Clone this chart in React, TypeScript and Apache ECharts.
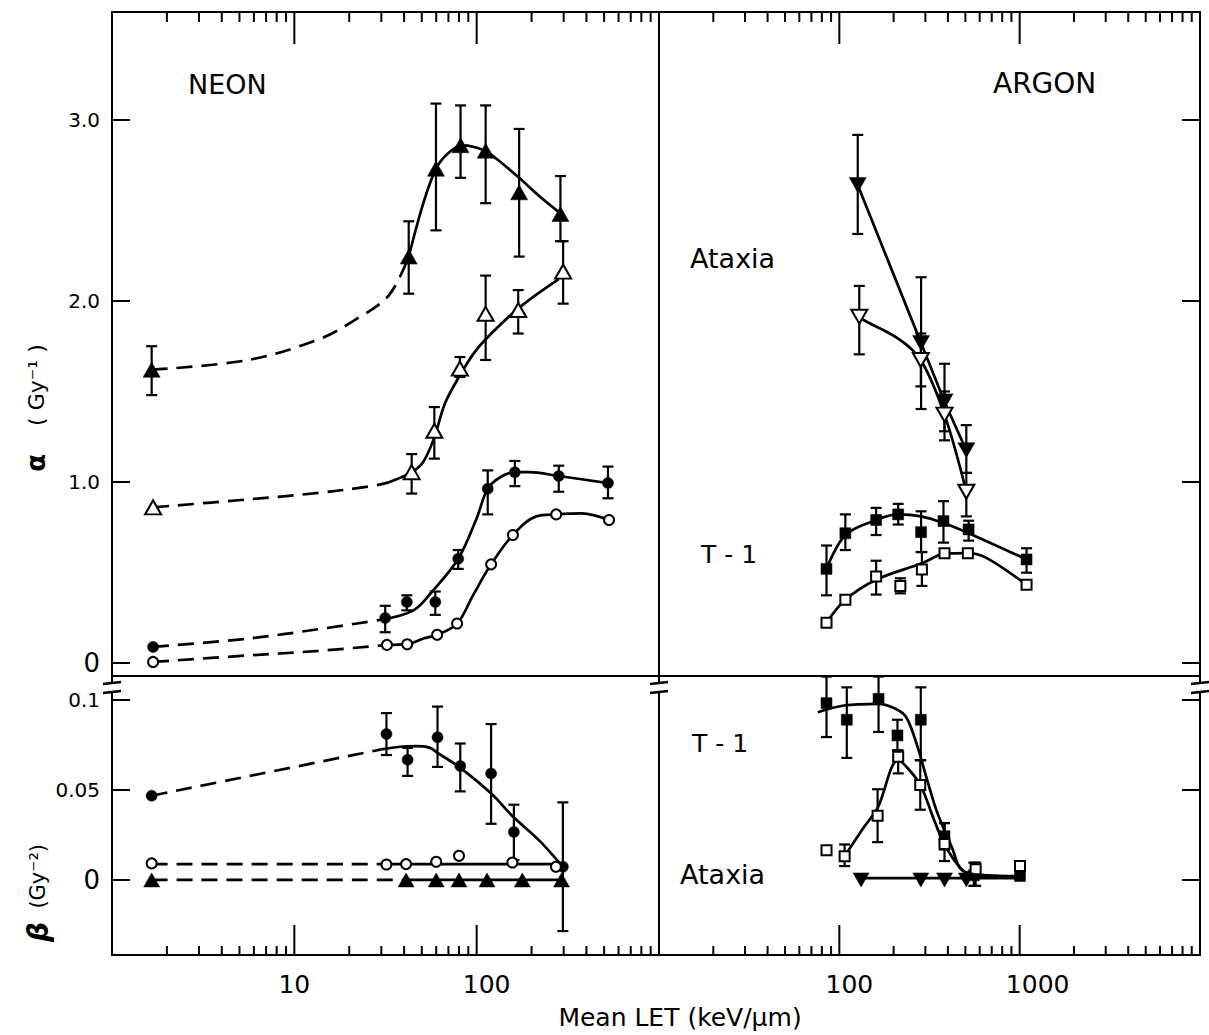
import React, { useEffect, useRef } from "react";
import * as echarts from "echarts";

// ================= NEON, alpha (Gy^-1) =================
// Ataxia, filled triangles
const neonAtaxiaFilledLET = [1.65, 42.4, 59.8, 81.6, 112, 171, 288];
const neonAtaxiaFilledAlpha = [1.62, 2.245, 2.73, 2.86, 2.83, 2.6, 2.48];
const neonAtaxiaFilledAlphaLo = [1.48, 2.04, 2.39, 2.68, 2.54, 2.245, 2.33];
const neonAtaxiaFilledAlphaHi = [1.75, 2.44, 3.09, 3.08, 3.08, 2.95, 2.69];
const neonAtaxiaFilledDashLET = [1.65, 5.6, 13.6, 21.1, 32.9, 42.4];
const neonAtaxiaFilledDash = [1.62, 1.674, 1.788, 1.89, 2.03, 2.245];
const neonAtaxiaFilledFitLET = [42.4, 51, 59.8, 70, 83.4, 95.5, 112, 136, 171, 221, 288];
const neonAtaxiaFilledFit = [2.245, 2.54, 2.73, 2.817, 2.859, 2.852, 2.827, 2.765, 2.68, 2.578, 2.484];

// Ataxia, open triangles
const neonAtaxiaOpenLET = [1.68, 44, 58.6, 80.9, 112, 169, 298];
const neonAtaxiaOpenAlpha = [0.86, 1.054, 1.283, 1.626, 1.929, 1.95, 2.162];
const neonAtaxiaOpenErrLET = [44, 58.6, 80.9, 112, 169, 298];
const neonAtaxiaOpenAlphaLo = [0.936, 1.129, 1.58, 1.674, 1.82, 1.985];
const neonAtaxiaOpenAlphaHi = [1.154, 1.414, 1.69, 2.14, 2.06, 2.33];
const neonAtaxiaOpenDashLET = [1.68, 5.6, 13.6, 26.4, 33];
const neonAtaxiaOpenDash = [0.86, 0.904, 0.94, 0.977, 0.998];
const neonAtaxiaOpenFitLET = [33, 44, 51, 58.6, 67, 81, 95.5, 112, 169, 282];
const neonAtaxiaOpenFit = [0.998, 1.054, 1.112, 1.247, 1.434, 1.59, 1.705, 1.788, 1.958, 2.12];

// T-1, filled circles
const neonT1FilledLET = [1.68, 31.5, 41.4, 59.3, 79.2, 115, 162, 282, 525];
const neonT1FilledAlpha = [0.089, 0.249, 0.337, 0.337, 0.576, 0.963, 1.054, 1.033, 0.994];
const neonT1FilledErrLET = [31.5, 41.4, 59.3, 79.2, 115, 162, 282, 525];
const neonT1FilledAlphaLo = [0.17, 0.291, 0.266, 0.52, 0.821, 0.977, 0.946, 0.91];
const neonT1FilledAlphaHi = [0.316, 0.374, 0.395, 0.624, 1.064, 1.116, 1.09, 1.085];
const neonT1FilledDashLET = [1.68, 5.6, 13.6, 30];
const neonT1FilledDash = [0.089, 0.135, 0.187, 0.239];
const neonT1FilledFitLET = [30, 45, 57, 79.2, 100, 115, 136, 162, 194, 282, 525];
const neonT1FilledFit = [0.239, 0.291, 0.395, 0.576, 0.8, 0.963, 1.029, 1.054, 1.054, 1.033, 0.994];

// T-1, open circles
const neonT1OpenLET = [1.68, 32.2, 41.6, 60.7, 78.1, 120, 158, 273, 532];
const neonT1OpenAlpha = [0.006, 0.1, 0.104, 0.156, 0.218, 0.545, 0.707, 0.821, 0.79];
const neonT1OpenDashLET = [1.68, 5.6, 13.6, 32.2];
const neonT1OpenDash = [0.006, 0.042, 0.067, 0.1];
const neonT1OpenFitLET = [32.2, 41.6, 51, 60.7, 78.1, 95.5, 120, 158, 212, 273, 377, 532];
const neonT1OpenFit = [0.1, 0.104, 0.135, 0.156, 0.218, 0.374, 0.545, 0.707, 0.81, 0.821, 0.827, 0.79];

// ================= NEON, beta (Gy^-2) =================
const neonT1FilledBetaLET = [1.65, 32, 41.8, 61, 81.3, 120, 160, 297];
const neonT1FilledBeta = [0.0468, 0.0811, 0.0668, 0.0793, 0.0633, 0.0591, 0.0266, 0.0073];
const neonT1FilledBetaErrLET = [32, 41.8, 61, 81.3, 120, 160, 297];
const neonT1FilledBetaLo = [0.0694, 0.0578, 0.0628, 0.0492, 0.0312, 0.011, -0.0284];
const neonT1FilledBetaHi = [0.0927, 0.0734, 0.0963, 0.0758, 0.0866, 0.0418, 0.0431];
const neonT1FilledBetaDashLET = [1.65, 30];
const neonT1FilledBetaDash = [0.0468, 0.0725];
const neonT1FilledBetaFitLET = [30, 38, 46, 55, 61, 81, 121, 158, 220, 290];
const neonT1FilledBetaFit = [0.0725, 0.074, 0.0743, 0.0735, 0.0706, 0.0624, 0.0477, 0.0352, 0.022, 0.0085];

const neonT1OpenBetaLET = [1.65, 32, 41, 60, 80, 157, 272];
const neonT1OpenBeta = [0.0092, 0.0086, 0.0088, 0.0101, 0.0134, 0.0097, 0.0073];
const neonT1OpenBetaDashLET = [1.65, 32];
const neonT1OpenBetaDash = [0.0088, 0.0088];
const neonT1OpenBetaFitLET = [32, 297];
const neonT1OpenBetaFit = [0.0088, 0.0088];

const neonAtaxiaFilledBetaLET = [1.65, 41, 60, 80, 114, 178, 292];
const neonAtaxiaFilledBeta = [0, 0, 0, 0, 0, 0, 0];
const neonAtaxiaFilledBetaDashLET = [1.65, 41];
const neonAtaxiaFilledBetaDash = [0, 0];
const neonAtaxiaFilledBetaFitLET = [41, 297];
const neonAtaxiaFilledBetaFit = [0, 0];

// ================= ARGON, alpha (Gy^-1) =================
const argonAtaxiaFilledLET = [126.5, 284, 383, 506];
const argonAtaxiaFilledAlpha = [2.64, 1.767, 1.445, 1.175];
const argonAtaxiaFilledAlphaLo = [2.37, 1.403, 1.28, 1.05];
const argonAtaxiaFilledAlphaHi = [2.917, 2.131, 1.653, 1.314];

const argonAtaxiaOpenLET = [129, 283, 383, 506];
const argonAtaxiaOpenAlpha = [1.913, 1.674, 1.372, 0.946];
const argonAtaxiaOpenAlphaLo = [1.705, 1.528, 1.23, 0.81];
const argonAtaxiaOpenAlphaHi = [2.083, 1.82, 1.5, 1.05];
const argonAtaxiaOpenFitLET = [129, 138, 215, 283, 383, 506];
const argonAtaxiaOpenFit = [1.913, 1.892, 1.788, 1.674, 1.372, 0.946];

const argonT1FilledLET = [84.9, 108, 160, 212, 284, 378, 521, 1092];
const argonT1FilledAlpha = [0.52, 0.717, 0.79, 0.821, 0.723, 0.784, 0.738, 0.572];
const argonT1FilledAlphaLo = [0.374, 0.624, 0.707, 0.765, 0.613, 0.665, 0.676, 0.499];
const argonT1FilledAlphaHi = [0.649, 0.821, 0.857, 0.879, 0.838, 0.894, 0.786, 0.634];
const argonT1FilledFitLET = [84.9, 108, 160, 212, 284, 378, 521, 1092];
const argonT1FilledFit = [0.52, 0.707, 0.79, 0.821, 0.81, 0.773, 0.717, 0.572];

const argonT1OpenLET = [84.9, 108, 160, 218, 287, 383, 516, 1092];
const argonT1OpenAlpha = [0.222, 0.349, 0.478, 0.426, 0.516, 0.607, 0.607, 0.432];
const argonT1OpenErrLET = [160, 218, 287];
const argonT1OpenAlphaLo = [0.378, 0.385, 0.426];
const argonT1OpenAlphaHi = [0.565, 0.468, 0.613];
const argonT1OpenFitLET = [84.9, 108, 160, 287, 383, 516, 650, 1092];
const argonT1OpenFit = [0.222, 0.349, 0.46, 0.551, 0.603, 0.607, 0.582, 0.432];

// ================= ARGON, beta (Gy^-2) =================
const argonT1FilledBetaLET = [84.9, 110, 165, 210, 283, 383, 557, 1004];
const argonT1FilledBeta = [0.0982, 0.089, 0.1006, 0.0803, 0.089, 0.0243, 0.0026, 0.0022];
const argonT1FilledBetaErrLET = [84.9, 110, 165, 210, 283, 383, 557];
const argonT1FilledBetaLo = [0.0794, 0.0678, 0.0822, 0.072, 0.0665, 0.0169, -0.0033];
const argonT1FilledBetaHi = [0.113, 0.107, 0.113, 0.089, 0.107, 0.0316, 0.0096];
const argonT1FilledBetaFitLET = [76, 106, 165, 206, 235, 268, 307, 350, 418, 499, 1004];
const argonT1FilledBetaFit = [0.0932, 0.0969, 0.0978, 0.095, 0.0904, 0.0757, 0.0555, 0.0371, 0.0188, 0.0044, 0.002];

const argonT1OpenBetaLET = [84.9, 107, 163, 212, 281, 383, 570, 1004];
const argonT1OpenBeta = [0.0165, 0.0132, 0.0357, 0.0684, 0.0528, 0.02, 0.0059, 0.0077];
const argonT1OpenBetaErrLET = [107, 163, 212, 281, 383, 570];
const argonT1OpenBetaLo = [0.0077, 0.021, 0.0592, 0.039, 0.0105, -0.0033];
const argonT1OpenBetaHi = [0.0197, 0.0504, 0.072, 0.0665, 0.0316, 0.0096];
const argonT1OpenBetaFitLET = [107, 138, 163, 212, 235, 281, 335, 383, 477, 570, 1004];
const argonT1OpenBetaFit = [0.0132, 0.0298, 0.04, 0.0665, 0.063, 0.0528, 0.0335, 0.0197, 0.0059, 0.0022, 0.0022];

const argonAtaxiaFilledBetaLET = [132, 283, 383, 506];
const argonAtaxiaFilledBeta = [0, 0, 0, 0];
const argonAtaxiaFilledBetaFitLET = [132, 1004];
const argonAtaxiaFilledBetaFit = [0.001, 0.001];

// ================= axes =================
const leftMajorLET = [10, 100];
const rightMajorLET = [100, 1000];
const minorMultipliers = [2, 3, 4, 5, 6, 7, 8, 9];
const leftDecades = [1, 10, 100];
const rightDecades = [10, 100, 1000];
const alphaTicks = [0, 1, 2, 3];
const betaTicks = [0, 0.05, 0.1];

const FONT = "'DejaVu Sans', 'Liberation Sans', sans-serif";
const lg = (v: number) => Math.log10(v);

function pts(lets: number[], vals: number[]) {
  return lets.map((L, i) => [lg(L), vals[i]]);
}
function minors(decades: number[]) {
  const out: number[] = [];
  decades.forEach((d) => minorMultipliers.forEach((m) => out.push(d * m)));
  return out;
}

function scatter(xi: number, yi: number, lets: number[], vals: number[], symbol: string, filled: boolean, size: any, rotate = 0) {
  return {
    type: "scatter",
    xAxisIndex: xi,
    yAxisIndex: yi,
    data: pts(lets, vals),
    symbol,
    symbolSize: size,
    symbolRotate: rotate,
    itemStyle: filled
      ? { color: "#000", borderColor: "#000", borderWidth: 0.5, opacity: 1 }
      : { color: "#fff", borderColor: "#000", borderWidth: 2, opacity: 1 },
    z: 6,
    silent: true,
  };
}

function curve(xi: number, yi: number, lets: number[], vals: number[], dashed: boolean, smooth: any = 0.35) {
  return {
    type: "line",
    xAxisIndex: xi,
    yAxisIndex: yi,
    data: pts(lets, vals),
    smooth,
    symbol: "none",
    showSymbol: false,
    lineStyle: { color: "#000", width: 2.7, type: dashed ? [16, 9] : "solid", opacity: 1 },
    z: 3,
    silent: true,
  };
}

function errorBars(xi: number, yi: number, lets: number[], lo: number[], hi: number[]) {
  return {
    type: "custom",
    xAxisIndex: xi,
    yAxisIndex: yi,
    data: lets.map((L, i) => [lg(L), lo[i], hi[i]]),
    encode: { x: 0, y: [1, 2] },
    z: 4,
    silent: true,
    renderItem: (params: any, api: any) => {
      const x = api.value(0);
      const a = api.coord([x, api.value(1)]);
      const b = api.coord([x, api.value(2)]);
      const cap = 5.5;
      const st = { stroke: "#000", lineWidth: 2.2 };
      return {
        type: "group",
        children: [
          { type: "line", shape: { x1: a[0], y1: a[1], x2: b[0], y2: b[1] }, style: st },
          { type: "line", shape: { x1: a[0] - cap, y1: a[1], x2: a[0] + cap, y2: a[1] }, style: st },
          { type: "line", shape: { x1: b[0] - cap, y1: b[1], x2: b[0] + cap, y2: b[1] }, style: st },
        ],
      };
    },
  };
}

// log-axis tick marks (drawn inward from the top or bottom edge of a grid)
function ticks(xi: number, yi: number, lets: number[], len: number, atTop: boolean) {
  return {
    type: "custom",
    xAxisIndex: xi,
    yAxisIndex: yi,
    data: lets.map((L) => [lg(L), 0]),
    encode: { x: 0, y: 1 },
    z: 7,
    silent: true,
    clip: false,
    renderItem: (params: any, api: any) => {
      const cs = params.coordSys;
      const px = api.coord([api.value(0), 0])[0];
      const y0 = atTop ? cs.y : cs.y + cs.height;
      const y1 = atTop ? y0 + len : y0 - len;
      return { type: "line", shape: { x1: px, y1: y0, x2: px, y2: y1 }, style: { stroke: "#000", lineWidth: 2 } };
    },
  };
}

function xAx(grid: number, pos: string, min: number, max: number, labels: number[] | null) {
  return {
    type: "value",
    gridIndex: grid,
    position: pos,
    min,
    max,
    axisLine: { show: false, onZero: false },
    splitLine: { show: false },
    axisTick: { show: false },
    axisLabel: labels
      ? {
          show: true,
          customValues: labels,
          formatter: (v: number) => {
            const s = String(Math.round(Math.pow(10, v)));
            return s.length === 2 ? s : s.length === 3 ? "{p3| }" + s : "{p4| }" + s;
          },
          fontFamily: FONT,
          fontSize: 25,
          color: "#000",
          margin: 17,
          rich: { p3: { width: 20, fontSize: 25 }, p4: { width: 36, fontSize: 25 } },
        }
      : { show: false },
  };
}

function yAx(grid: number, pos: string, min: number, max: number, tks: number[], showLabels: boolean, fmt: (v: number) => string) {
  return {
    type: "value",
    gridIndex: grid,
    position: pos,
    min,
    max,
    axisLine: { show: false, onZero: false },
    splitLine: { show: false },
    axisTick: { show: true, inside: true, length: 18, customValues: tks, lineStyle: { color: "#000", width: 2 } },
    axisLabel: showLabels
      ? {
          show: true,
          customValues: tks,
          formatter: (v: number) => (v === 0 ? "{z|0}" : fmt(v)),
          fontFamily: FONT,
          fontSize: 20,
          color: "#000",
          margin: 12,
          rich: { z: { fontFamily: FONT, fontSize: 26, color: "#000" } },
        }
      : { show: false },
  };
}

function breakMarks(x: number) {
  return [
    { type: "rect", shape: { x: x - 6, y: 684, width: 12, height: 7 }, style: { fill: "#fff" }, z: 100 },
    { type: "line", shape: { x1: x - 9, y1: 684, x2: x + 9, y2: 682 }, style: { stroke: "#000", lineWidth: 2.5 }, z: 101 },
    { type: "line", shape: { x1: x - 9, y1: 693, x2: x + 9, y2: 691 }, style: { stroke: "#000", lineWidth: 2.5 }, z: 101 },
  ];
}

function label(text: string, x: number, y: number, size: number, align = "left") {
  return {
    type: "text",
    x,
    y,
    z: 50,
    style: { text, fill: "#000", fontFamily: FONT, fontSize: size, align, verticalAlign: "middle" },
  };
}

export default function App() {
  const ref = useRef<HTMLDivElement>(null);
  useEffect(() => {
    if (!ref.current) return;
    const chart = echarts.init(ref.current, null, { renderer: "svg" });

    const GL = { left: 112, width: 547 };
    const GR = { left: 659, width: 541 };
    const TOP = { top: 12, height: 664 };
    const BOT = { top: 676, height: 279 };
    const gridStyle = { show: true, borderColor: "#000", borderWidth: 2, backgroundColor: "transparent" };

    const alphaMin = -0.0717, alphaMax = 3.596;
    const betaMin = -0.0417, betaMax = 0.1133;
    const fmtA = (v: number) => v.toFixed(1);
    const fmtB = (v: number) => (v === 0.1 ? "0.1" : String(v));

    const option: any = {
      animation: false,
      backgroundColor: "#fff",
      grid: [
        { ...gridStyle, ...GL, ...TOP },
        { ...gridStyle, ...GR, ...TOP },
        { ...gridStyle, ...GL, ...BOT },
        { ...gridStyle, ...GR, ...BOT },
      ],
      xAxis: [
        xAx(0, "top", 0, 3, null),
        xAx(1, "top", 1, 4, null),
        xAx(2, "bottom", 0, 3, leftMajorLET.map(lg)),
        xAx(3, "bottom", 1, 4, rightMajorLET.map(lg)),
      ],
      yAxis: [
        yAx(0, "left", alphaMin, alphaMax, alphaTicks, true, fmtA),
        yAx(1, "right", alphaMin, alphaMax, alphaTicks, false, fmtA),
        yAx(2, "left", betaMin, betaMax, betaTicks, true, fmtB),
        yAx(3, "right", betaMin, betaMax, betaTicks, false, fmtB),
      ],
      series: [
        // log tick marks
        ticks(0, 0, leftMajorLET, 32, true),
        ticks(0, 0, minors(leftDecades), 10, true),
        ticks(1, 1, rightMajorLET, 32, true),
        ticks(1, 1, minors(rightDecades), 10, true),
        ticks(2, 2, leftMajorLET, 30, false),
        ticks(2, 2, minors(leftDecades), 9, false),
        ticks(3, 3, rightMajorLET, 30, false),
        ticks(3, 3, minors(rightDecades), 9, false),

        // NEON alpha
        curve(0, 0, neonAtaxiaFilledDashLET, neonAtaxiaFilledDash, true),
        curve(0, 0, neonAtaxiaFilledFitLET, neonAtaxiaFilledFit, false),
        errorBars(0, 0, neonAtaxiaFilledLET, neonAtaxiaFilledAlphaLo, neonAtaxiaFilledAlphaHi),
        scatter(0, 0, neonAtaxiaFilledLET, neonAtaxiaFilledAlpha, "triangle", true, [17, 15]),
        curve(0, 0, neonAtaxiaOpenDashLET, neonAtaxiaOpenDash, true),
        curve(0, 0, neonAtaxiaOpenFitLET, neonAtaxiaOpenFit, false),
        errorBars(0, 0, neonAtaxiaOpenErrLET, neonAtaxiaOpenAlphaLo, neonAtaxiaOpenAlphaHi),
        scatter(0, 0, neonAtaxiaOpenLET, neonAtaxiaOpenAlpha, "triangle", false, [16, 14]),
        curve(0, 0, neonT1FilledDashLET, neonT1FilledDash, true),
        curve(0, 0, neonT1FilledFitLET, neonT1FilledFit, false),
        errorBars(0, 0, neonT1FilledErrLET, neonT1FilledAlphaLo, neonT1FilledAlphaHi),
        scatter(0, 0, neonT1FilledLET, neonT1FilledAlpha, "circle", true, 11),
        curve(0, 0, neonT1OpenDashLET, neonT1OpenDash, true),
        curve(0, 0, neonT1OpenFitLET, neonT1OpenFit, false),
        scatter(0, 0, neonT1OpenLET, neonT1OpenAlpha, "circle", false, 10),

        // ARGON alpha
        curve(1, 1, argonAtaxiaFilledLET, argonAtaxiaFilledAlpha, false, 0.15),
        errorBars(1, 1, argonAtaxiaFilledLET, argonAtaxiaFilledAlphaLo, argonAtaxiaFilledAlphaHi),
        scatter(1, 1, argonAtaxiaFilledLET, argonAtaxiaFilledAlpha, "triangle", true, [17, 15], 180),
        curve(1, 1, argonAtaxiaOpenFitLET, argonAtaxiaOpenFit, false),
        errorBars(1, 1, argonAtaxiaOpenLET, argonAtaxiaOpenAlphaLo, argonAtaxiaOpenAlphaHi),
        scatter(1, 1, argonAtaxiaOpenLET, argonAtaxiaOpenAlpha, "triangle", false, [16, 14], 180),
        curve(1, 1, argonT1FilledFitLET, argonT1FilledFit, false),
        errorBars(1, 1, argonT1FilledLET, argonT1FilledAlphaLo, argonT1FilledAlphaHi),
        scatter(1, 1, argonT1FilledLET, argonT1FilledAlpha, "rect", true, 11),
        curve(1, 1, argonT1OpenFitLET, argonT1OpenFit, false),
        errorBars(1, 1, argonT1OpenErrLET, argonT1OpenAlphaLo, argonT1OpenAlphaHi),
        scatter(1, 1, argonT1OpenLET, argonT1OpenAlpha, "rect", false, 10),

        // NEON beta
        curve(2, 2, neonT1FilledBetaDashLET, neonT1FilledBetaDash, true),
        curve(2, 2, neonT1FilledBetaFitLET, neonT1FilledBetaFit, false),
        errorBars(2, 2, neonT1FilledBetaErrLET, neonT1FilledBetaLo, neonT1FilledBetaHi),
        scatter(2, 2, neonT1FilledBetaLET, neonT1FilledBeta, "circle", true, 11),
        curve(2, 2, neonT1OpenBetaDashLET, neonT1OpenBetaDash, true),
        curve(2, 2, neonT1OpenBetaFitLET, neonT1OpenBetaFit, false),
        scatter(2, 2, neonT1OpenBetaLET, neonT1OpenBeta, "circle", false, 10),
        curve(2, 2, neonAtaxiaFilledBetaDashLET, neonAtaxiaFilledBetaDash, true),
        curve(2, 2, neonAtaxiaFilledBetaFitLET, neonAtaxiaFilledBetaFit, false),
        scatter(2, 2, neonAtaxiaFilledBetaLET, neonAtaxiaFilledBeta, "triangle", true, [16, 14]),

        // ARGON beta
        curve(3, 3, argonT1FilledBetaFitLET, argonT1FilledBetaFit, false),
        errorBars(3, 3, argonT1FilledBetaErrLET, argonT1FilledBetaLo, argonT1FilledBetaHi),
        scatter(3, 3, argonT1FilledBetaLET, argonT1FilledBeta, "rect", true, 11),
        curve(3, 3, argonT1OpenBetaFitLET, argonT1OpenBetaFit, false),
        errorBars(3, 3, argonT1OpenBetaErrLET, argonT1OpenBetaLo, argonT1OpenBetaHi),
        scatter(3, 3, argonT1OpenBetaLET, argonT1OpenBeta, "rect", false, 10),
        curve(3, 3, argonAtaxiaFilledBetaFitLET, argonAtaxiaFilledBetaFit, false, false),
        scatter(3, 3, argonAtaxiaFilledBetaLET, argonAtaxiaFilledBeta, "triangle", true, [16, 14], 180),
      ],
      graphic: [
        ...breakMarks(112),
        ...breakMarks(659),
        ...breakMarks(1200),
        label("NEON", 188, 84, 27),
        label("ARGON", 993, 83, 28),
        label("Ataxia", 690, 258, 27),
        label("T - 1", 701, 554, 25),
        label("T - 1", 692, 743, 25),
        label("Ataxia", 680, 874, 27),
        label("Mean LET (keV/μm)", 680, 1017, 25, "center"),
        {
          type: "text",
          x: 36,
          y: 408,
          rotation: Math.PI / 2,
          z: 50,
          style: {
            text: "{a|α}    ( Gy⁻¹ )",
            fill: "#000",
            fontFamily: FONT,
            fontSize: 22,
            align: "center",
            verticalAlign: "middle",
            rich: { a: { fontFamily: FONT, fontSize: 26, fontWeight: "bold", fill: "#000" } },
          },
        },
        {
          type: "text",
          x: 38,
          y: 893,
          rotation: Math.PI / 2,
          z: 50,
          style: {
            text: "{a|β}  (Gy⁻²)",
            fill: "#000",
            fontFamily: FONT,
            fontSize: 21,
            align: "center",
            verticalAlign: "middle",
            rich: { a: { fontFamily: FONT, fontSize: 28, fontStyle: "italic", fontWeight: "bold", fill: "#000" } },
          },
        },
      ],
    };

    chart.setOption(option);
    return () => chart.dispose();
  }, []);

  return <div ref={ref} style={{ position: "absolute", left: 0, top: 0, width: 1209, height: 1035 }} />;
}
